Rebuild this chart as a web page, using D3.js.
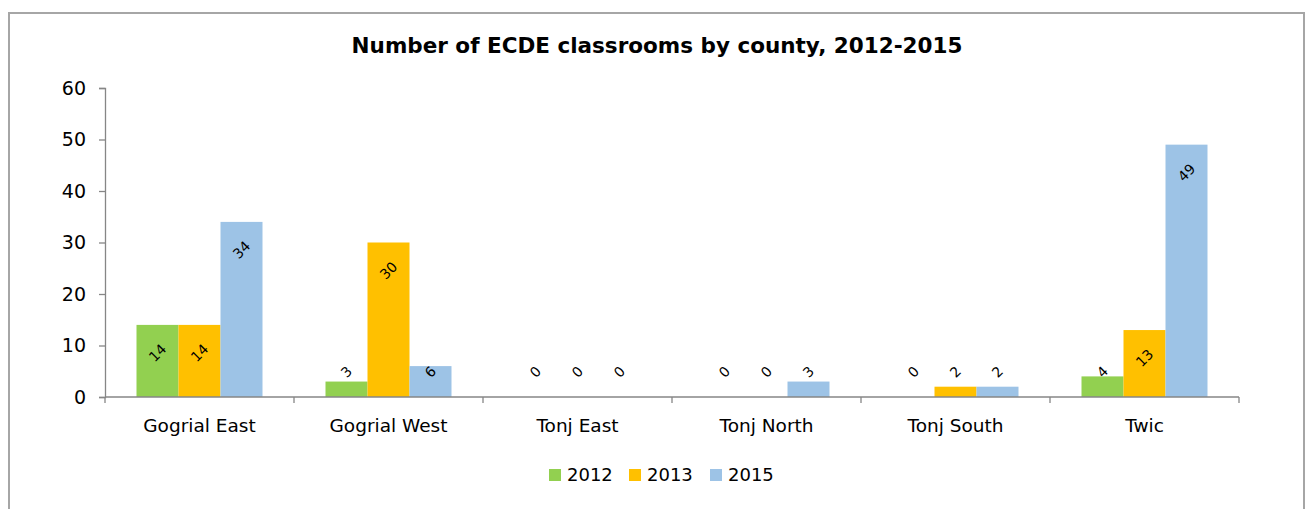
<!DOCTYPE html>
<html>
<head>
<meta charset="utf-8">
<script src="https://cdn.jsdelivr.net/npm/d3@7"></script>
<style>
  html, body { margin: 0; padding: 0; background: #fff; }
  svg { display: block; font-family: "DejaVu Sans", Verdana, sans-serif; }
</style>
</head>
<body>
<div id="chart"></div>
<script>
const counties = ["Gogrial East", "Gogrial West", "Tonj East", "Tonj North", "Tonj South", "Twic"];
const years = ["2012", "2013", "2015"];
const values2012 = [14, 3, 0, 0, 0, 4];
const values2013 = [14, 30, 0, 0, 2, 13];
const values2015 = [34, 6, 0, 3, 2, 49];
const yTicks = [0, 10, 20, 30, 40, 50, 60];
const colors = ["#92d050", "#ffc000", "#9dc3e6"];

const W = 1311, H = 509;
const seriesValues = [values2012, values2013, values2015];
const rows = counties.map((c, i) => ({
  county: c,
  vals: years.map((y, j) => ({ year: y, value: seriesValues[j][i] }))
}));

const svg = d3.select("#chart").append("svg")
  .attr("width", W)
  .attr("height", H);

// outer frame (bottom edge falls off the picture)
svg.append("path")
  .attr("d", "M9,512 L9,13 L1304,13 L1304,512")
  .attr("fill", "none")
  .attr("stroke", "#a6a6a6")
  .attr("stroke-width", 2);

svg.append("text")
  .attr("x", 657)
  .attr("y", 53)
  .attr("text-anchor", "middle")
  .attr("font-weight", "bold")
  .attr("font-size", 21.5)
  .attr("fill", "#000")
  .text("Number of ECDE classrooms by county, 2012-2015");

const x0 = d3.scaleBand()
  .domain(counties)
  .range([105, 1239])
  .paddingInner(1 / 3)
  .paddingOuter(1 / 6);

const x1 = d3.scaleBand()
  .domain(years)
  .range([0, x0.bandwidth()]);

const y = d3.scaleLinear()
  .domain([0, 60])
  .range([397, 88]);

const color = d3.scaleOrdinal().domain(years).range(colors);

// bars
const groups = svg.append("g")
  .selectAll("g")
  .data(rows)
  .join("g")
  .attr("transform", d => `translate(${x0(d.county)},0)`);

groups.selectAll("rect")
  .data(d => d.vals)
  .join("rect")
  .attr("x", d => x1(d.year))
  .attr("y", d => y(d.value))
  .attr("width", x1.bandwidth())
  .attr("height", d => y(0) - y(d.value))
  .attr("fill", d => color(d.year));

// rotated data labels
groups.selectAll("text")
  .data(d => d.vals)
  .join("text")
  .attr("transform", d => {
    const cx = x1(d.year) + x1.bandwidth() / 2;
    const cy = Math.min(y(d.value) + 28, y(0) - 25);
    return `translate(${cx},${cy}) rotate(-45)`;
  })
  .attr("text-anchor", "middle")
  .attr("dy", "0.35em")
  .attr("font-size", 14)
  .attr("fill", "#000")
  .text(d => d.value);

// y axis
svg.append("g")
  .attr("transform", "translate(105,0)")
  .call(d3.axisLeft(y).tickValues(yTicks).tickSize(6).tickPadding(13))
  .call(g => g.selectAll("path").attr("stroke", "#868686").attr("stroke-width", 1.3))
  .call(g => g.selectAll("line").attr("stroke", "#868686").attr("stroke-width", 1.3))
  .call(g => g.selectAll("text").attr("font-size", 19).attr("fill", "#000")
    .attr("font-family", "DejaVu Sans, Verdana, sans-serif"));

// x axis: line with ticks at category boundaries
const xAxis = svg.append("g").attr("transform", `translate(0,${y(0)})`);
xAxis.append("line")
  .attr("x1", 105).attr("x2", 1239)
  .attr("stroke", "#868686").attr("stroke-width", 1.3);
const edges = counties.map(c => x0(c) - (x0.step() - x0.bandwidth()) / 2).concat([1239]);
xAxis.selectAll("line.tick")
  .data(edges)
  .join("line")
  .attr("class", "tick")
  .attr("x1", d => d).attr("x2", d => d)
  .attr("y1", 0).attr("y2", 6)
  .attr("stroke", "#868686").attr("stroke-width", 1.3);
xAxis.selectAll("text")
  .data(counties)
  .join("text")
  .attr("x", d => x0(d) + x0.bandwidth() / 2)
  .attr("y", 35)
  .attr("text-anchor", "middle")
  .attr("font-size", 18.5)
  .attr("fill", "#000")
  .text(d => d);

// legend
const legendX = [549, 629, 710];
const legend = svg.append("g")
  .selectAll("g")
  .data(years)
  .join("g")
  .attr("transform", (d, i) => `translate(${legendX[i]},469)`);
legend.append("rect")
  .attr("width", 12).attr("height", 12)
  .attr("fill", d => color(d));
legend.append("text")
  .attr("x", 18)
  .attr("y", 6)
  .attr("dy", "0.35em")
  .attr("font-size", 18)
  .attr("fill", "#000")
  .text(d => d);
</script>
</body>
</html>
